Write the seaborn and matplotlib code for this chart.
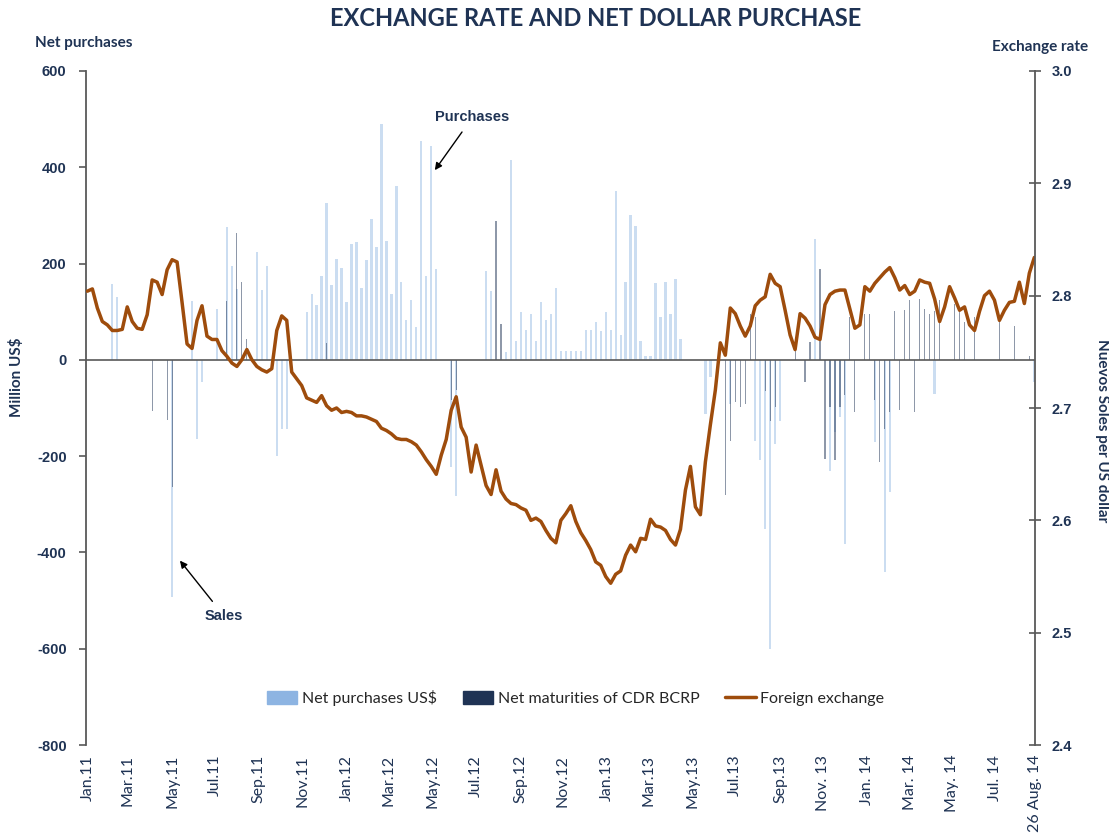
import numpy as np
import pandas as pd
import seaborn as sns
import matplotlib.pyplot as plt
from matplotlib.patches import Patch
from matplotlib.lines import Line2D

start_date = "2011-01-03"

# exchange rate, Nuevos Soles per US dollar
fx_rate = [
    2.804, 2.806, 2.789, 2.777, 2.774, 2.769, 2.769, 2.770, 2.790, 2.777,
    2.771, 2.770, 2.783, 2.814, 2.812, 2.801, 2.823, 2.832, 2.830, 2.794,
    2.757, 2.753, 2.778, 2.791, 2.764, 2.761, 2.761, 2.751, 2.746, 2.740,
    2.737, 2.743, 2.752, 2.743, 2.737, 2.734, 2.732, 2.735, 2.769, 2.782,
    2.778, 2.732, 2.726, 2.720, 2.709, 2.707, 2.705, 2.711, 2.702, 2.698,
    2.700, 2.696, 2.697, 2.696, 2.693, 2.693, 2.692, 2.690, 2.688, 2.682,
    2.680, 2.677, 2.673, 2.672, 2.672, 2.670, 2.667, 2.661, 2.654, 2.648,
    2.641, 2.658, 2.672, 2.698, 2.710, 2.683, 2.674, 2.643, 2.667, 2.649,
    2.631, 2.623, 2.645, 2.626, 2.619, 2.615, 2.614, 2.611, 2.609, 2.600,
    2.602, 2.599, 2.591, 2.584, 2.580, 2.600, 2.606, 2.613, 2.599, 2.589,
    2.582, 2.574, 2.563, 2.560, 2.550, 2.544, 2.552, 2.555, 2.569, 2.578,
    2.572, 2.584, 2.583, 2.601, 2.595, 2.594, 2.591, 2.583, 2.578, 2.592,
    2.627, 2.648, 2.612, 2.605, 2.652, 2.685, 2.716, 2.758, 2.747, 2.789,
    2.784, 2.773, 2.764, 2.773, 2.791, 2.796, 2.799, 2.819, 2.811, 2.808,
    2.787, 2.765, 2.752, 2.784, 2.780, 2.773, 2.763, 2.761, 2.792, 2.801,
    2.804, 2.805, 2.805, 2.788, 2.771, 2.774, 2.808, 2.804, 2.811, 2.816,
    2.821, 2.825, 2.816, 2.805, 2.809, 2.801, 2.804, 2.814, 2.812, 2.811,
    2.797, 2.777, 2.790, 2.808, 2.798, 2.787, 2.790, 2.774, 2.769, 2.786,
    2.800, 2.804, 2.796, 2.778, 2.787, 2.794, 2.795, 2.812, 2.793, 2.820,
    2.834,
]

# net purchases of US$ (million), week number -> value
purchase_week = [
    5, 6, 17, 21, 22, 23, 26, 28, 29, 30, 34, 35, 36, 38, 39, 40,
    44, 45, 46, 47, 48, 49, 50, 51, 52, 53, 54, 55, 56, 57, 58, 59,
    60, 61, 62, 63, 64, 65, 66, 67, 68, 69, 70, 73, 74,
    80, 81, 84, 85, 86, 87, 88, 89, 90, 91, 92, 93, 94, 95, 96, 97,
    98, 99, 100, 101, 102, 103, 104, 105, 106, 107, 108, 109, 110, 111,
    112, 113, 114, 115, 116, 117, 118, 119, 124, 125, 129, 134, 135,
    136, 137, 138, 139, 146, 149, 150, 151, 152, 158, 160, 161, 170, 190,
]
purchase_musd = [
    158, 130, -493, 123, -164, -46, 106, 276, 194, 147, 224, 145, 194, -199, -143, -143,
    99, 137, 114, 175, 325, 156, 210, 191, 120, 241, 244, 150, 208, 293, 235, 489,
    246, 137, 362, 161, 82, 125, 68, 455, 175, 445, 189, -223, -282,
    184, 144, 16, 415, 40, 99, 61, 96, 40, 120, 82, 96, 150, 19, 19, 19,
    19, 19, 61, 61, 78, 60, 99, 61, 350, 51, 161, 300, 279, 40,
    9, 9, 159, 89, 161, 96, 168, 44, -112, -36, -91, -168, -209,
    -351, -600, -174, -126, 251, -230, -150, -119, -382, -171, -441, -275, -71, -46,
]

# net maturities of CDR BCRP (million US$), week number -> value
cdr_week = [
    13, 16, 17, 28, 30, 31, 32, 48, 73, 74, 82, 83,
    128, 129, 130, 131, 132, 133, 134, 136, 137, 138, 142, 144, 145, 147,
    148, 149, 150, 151, 152, 153, 154, 156, 157, 158, 159, 160, 161, 162,
    163, 164, 165, 166, 167, 168, 169, 170, 171, 174, 175, 176, 178, 183, 186, 189,
]
cdr_musd = [
    -107, -125, -264, 123, 264, 161, 44, 34, -84, -63, 289, 75,
    -280, -168, -88, -98, -91, 96, 89, -64, -126, -98, 47, -46, 37, 188,
    -206, -98, -209, -98, -74, 90, -109, 96, 96, -84, -213, -143, -109, 102,
    -105, 104, 125, -109, 127, 106, 96, 102, 125, 116, 109, 78, 89, 85, 71, 9,
]

tick_dates = [
    "2011-01-03", "2011-03-01", "2011-05-02", "2011-07-01", "2011-09-01", "2011-11-01",
    "2012-01-02", "2012-03-01", "2012-05-02", "2012-07-02", "2012-09-03", "2012-11-01",
    "2013-01-02", "2013-03-01", "2013-05-02", "2013-07-01", "2013-09-02", "2013-11-01",
    "2014-01-02", "2014-03-03", "2014-05-02", "2014-07-01", "2014-08-26",
]
tick_labels = [
    "Jan.11", "Mar.11", "May.11", "Jul.11", "Sep.11", "Nov.11",
    "Jan.12", "Mar.12", "May.12", "Jul.12", "Sep.12", "Nov.12",
    "Jan.13", "Mar.13", "May.13", "Jul.13", "Sep.13", "Nov. 13",
    "Jan. 14", "Mar. 14", "May. 14", "Jul. 14", "26 Aug. 14",
]
left_ticks = [-800, -600, -400, -200, 0, 200, 400, 600]
right_ticks = [2.4, 2.5, 2.6, 2.7, 2.8, 2.9, 3.0]

navy = "#1F3354"
grey = "#595959"
light_blue = "#8DB4E2"
brown = "#9E4C0C"

weeks = pd.date_range(start_date, periods=len(fx_rate), freq="7D")
purchases = np.zeros(len(weeks))
purchases[purchase_week] = purchase_musd
maturities = np.zeros(len(weeks))
maturities[cdr_week] = cdr_musd

sns.set_theme(style="white")
plt.rcParams["font.family"] = ["Lato", "DejaVu Sans"]

fig = plt.figure(figsize=(11.09, 8.39), dpi=100)
ax = fig.add_axes([0.0775, 0.112, 0.8558, 0.8034])
ax2 = ax.twinx()

ax.bar(weeks, purchases, width=3.2, color=light_blue, alpha=0.45, linewidth=0)
ax.bar(weeks, maturities, width=1.6, color=navy, alpha=0.5, linewidth=0)
ax.axhline(0, color=grey, lw=1.2, zorder=3)

sns.lineplot(x=weeks, y=fx_rate, ax=ax2, color=brown, linewidth=2.5)

ax.set_ylim(-800, 600)
ax2.set_ylim(2.4, 3.0)
ax.set_xlim(pd.Timestamp("2011-01-01"), pd.Timestamp("2014-08-26"))

ax.set_yticks(left_ticks)
ax.set_yticklabels([str(v) for v in left_ticks], fontfamily="Liberation Sans",
                   fontweight="bold", fontsize=10.5, color=navy)
ax2.set_yticks(right_ticks)
ax2.set_yticklabels([f"{v:.1f}" for v in right_ticks], fontfamily="Liberation Sans",
                    fontweight="bold", fontsize=10.5, color=navy)
ax.set_xticks(pd.to_datetime(tick_dates))
ax.set_xticklabels(tick_labels, rotation=90, fontsize=11.5, color=navy)

ax.tick_params(axis="y", direction="out", length=5, width=1.2, color=grey, pad=9, left=True)
ax2.tick_params(axis="y", direction="inout", length=8, width=1.2, color=grey, pad=8, right=True)
ax.tick_params(axis="x", length=0, pad=7)

for side in ["top", "right", "bottom"]:
    ax.spines[side].set_visible(False)
for side in ["top", "left", "bottom"]:
    ax2.spines[side].set_visible(False)
ax.spines["left"].set_color(grey)
ax.spines["left"].set_linewidth(1.3)
ax2.spines["right"].set_visible(True)
ax2.spines["right"].set_color(grey)
ax2.spines["right"].set_linewidth(1.3)
ax.grid(False)
ax2.grid(False)
ax.set_xlabel("")
ax.set_ylabel("")
ax2.set_xlabel("")
ax2.set_ylabel("")

# arrows with labels
ax.annotate("Purchases", xy=(pd.Timestamp("2012-05-05"), 394),
            xytext=(pd.Timestamp("2012-06-27"), 504),
            ha="center", va="center", fontfamily="Liberation Sans", fontweight="bold",
            fontsize=10.5, color=navy,
            arrowprops=dict(arrowstyle="-|>", color="black", lw=1, shrinkA=4, shrinkB=0))
ax.annotate("Sales", xy=(pd.Timestamp("2011-05-13"), -417),
            xytext=(pd.Timestamp("2011-07-14"), -532),
            ha="center", va="center", fontfamily="Liberation Sans", fontweight="bold",
            fontsize=10.5, color=navy,
            arrowprops=dict(arrowstyle="-|>", color="black", lw=1, shrinkA=4, shrinkB=0))

handles = [Patch(color=light_blue), Patch(color=navy), Line2D([], [], color=brown, lw=2.5)]
labels = ["Net purchases US$", "Net maturities of CDR BCRP", "Foreign exchange"]
ax2.legend(handles, labels, loc="center", bbox_to_anchor=(0.516, 0.07), ncol=3,
           frameon=False, fontsize=11.5, handlelength=1.9, handleheight=0.9,
           handletextpad=0.3, columnspacing=1.6, labelcolor="#262626")

fig.text(0.5375, 0.978, "EXCHANGE RATE AND NET DOLLAR PURCHASE", ha="center", va="center",
         fontsize=17, fontweight="bold", color=navy)
fig.text(0.0757, 0.9487, "Net purchases", ha="center", va="center",
         fontsize=11, fontweight="bold", color=navy)
fig.text(0.9378, 0.944, "Exchange rate", ha="center", va="center",
         fontsize=11, fontweight="bold", color=navy)
fig.text(0.0153, 0.55, "Million US$", ha="center", va="center", rotation=90,
         fontsize=11, fontweight="bold", color=navy)
fig.text(0.9937, 0.487, "Nuevos Soles per US dollar", ha="center", va="center", rotation=270,
         fontsize=11, fontweight="bold", color=navy)

fig.savefig("out.png", dpi=100)
